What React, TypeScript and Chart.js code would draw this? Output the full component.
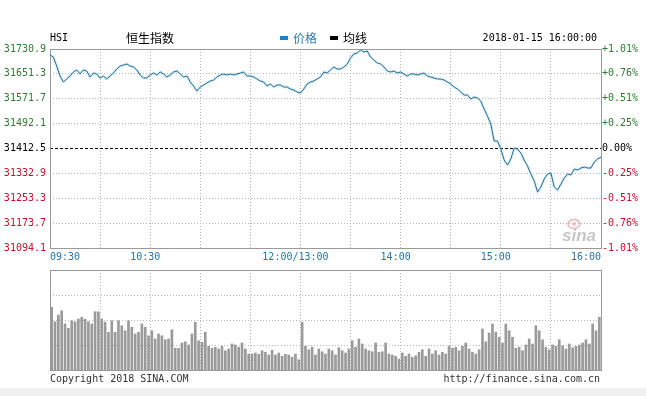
import React, { useEffect, useRef } from 'react';
import { Chart, registerables } from 'chart.js';

Chart.register(...registerables);

// ---------- data ----------
const symbol = 'HSI';
const indexName = '恒生指数';
const timestamp = '2018-01-15 16:00:00';
const baseValue = 31412.5;
const yTicks = [31094.1, 31173.7, 31253.3, 31332.9, 31412.5, 31492.1, 31571.7, 31651.3, 31730.9];
const pctLabels = ['-1.01%', '-0.76%', '-0.51%', '-0.25%', '0.00%', '+0.25%', '+0.51%', '+0.76%', '+1.01%'];
const xLabelTimes = [0, 60, 150, 210, 270, 330];
const xLabels = ['09:30', '10:30', '12:00/13:00', '14:00', '15:00', '16:00'];
const gridTimes = [30, 60, 90, 120, 150, 180, 210, 240, 270, 300];
const volGridLevels = [1, 2, 3];
const minutesStep = 2;
const legendNames = ['价格', '均线'];
const copyright = 'Copyright 2018 SINA.COM';
const siteUrl = 'http://finance.sina.com.cn';

// price every 2 minutes (trading minutes since 09:30)
const prices = [
  31711.7, 31705.3, 31676.5, 31644.5, 31625.3, 31634.9, 31644.5, 31657.3, 31663.7, 31650.9,
  31663.7, 31660.5, 31641.3, 31654.1, 31650.9, 31638.1, 31644.5, 31634.9, 31644.5, 31654.1,
  31666.9, 31676.5, 31679.7, 31682.9, 31676.5, 31673.3, 31663.7, 31647.7, 31638.1, 31638.1,
  31647.7, 31654.1, 31647.7, 31657.3, 31650.9, 31641.3, 31647.7, 31657.3, 31660.5, 31650.9,
  31641.3, 31644.5, 31625.3, 31612.5, 31596.5, 31609.3, 31615.7, 31622.1, 31628.5, 31631.7,
  31641.3, 31647.7, 31650.9, 31647.7, 31650.9, 31647.7, 31650.9, 31654.1, 31657.3, 31644.5,
  31644.5, 31641.3, 31634.9, 31628.5, 31625.3, 31612.5, 31618.9, 31609.3, 31615.7, 31615.7,
  31609.3, 31609.3, 31602.9, 31599.7, 31593.3, 31590.1, 31602.9, 31618.9, 31625.3, 31628.5,
  31634.9, 31641.3, 31657.3, 31654.1, 31663.7, 31673.3, 31666.9, 31666.9, 31673.3, 31682.9,
  31702.1, 31714.9, 31718.1, 31727.7, 31721.3, 31724.5, 31705.3, 31695.7, 31686.1, 31682.9,
  31673.3, 31660.5, 31657.3, 31660.5, 31654.1, 31657.3, 31650.9, 31644.5, 31650.9, 31650.9,
  31647.7, 31650.9, 31654.1, 31644.5, 31641.3, 31638.1, 31634.9, 31634.9, 31631.7, 31625.3,
  31618.9, 31609.3, 31602.9, 31593.3, 31583.7, 31583.7, 31570.9, 31577.3, 31574.1, 31564.5,
  31538.9, 31516.5, 31490.9, 31436.5, 31436.5, 31410.9, 31375.7, 31359.7, 31378.9, 31414.1,
  31410.9, 31398.1, 31375.7, 31356.5, 31330.9, 31308.5, 31273.3, 31289.3, 31314.9, 31330.9,
  31334.1, 31289.3, 31279.7, 31298.9, 31318.1, 31330.9, 31327.7, 31346.9, 31343.7, 31350.1,
  31353.3, 31350.1, 31350.1, 31369.3, 31378.9, 31385.3,
];

// relative volume per 2-minute bucket
const volumes = [
  2.51, 1.93, 2.2, 2.37, 1.84, 1.67, 1.97, 1.93, 2.04, 2.11, 2.03, 1.93, 1.84, 2.33, 2.33,
  2.04, 1.91, 1.51, 1.97, 1.51, 1.97, 1.77, 1.57, 1.97, 1.71, 1.44, 1.51, 1.84, 1.71, 1.37,
  1.57, 1.24, 1.44, 1.37, 1.21, 1.24, 1.61, 0.87, 0.87, 1.08, 1.13, 1.0, 1.44, 1.91, 1.17,
  1.11, 1.51, 0.95, 0.87, 0.91, 0.84, 0.95, 0.77, 0.84, 1.04, 1.0, 0.91, 1.08, 0.84, 0.64,
  0.64, 0.68, 0.63, 0.77, 0.71, 0.6, 0.79, 0.6, 0.68, 0.55, 0.63, 0.6, 0.51, 0.64, 0.41,
  1.91, 0.95, 0.81, 0.91, 0.6, 0.84, 0.73, 0.64, 0.84, 0.77, 0.6, 0.89, 0.77, 0.68, 0.84,
  1.17, 0.91, 1.24, 1.04, 0.84, 0.77, 0.73, 1.08, 0.71, 0.73, 1.08, 0.64, 0.6, 0.55, 0.44,
  0.68, 0.55, 0.64, 0.51, 0.57, 0.71, 0.81, 0.55, 0.84, 0.64, 0.77, 0.6, 0.71, 0.64, 0.95,
  0.87, 0.91, 0.77, 0.95, 1.08, 0.84, 0.71, 0.64, 0.81, 1.64, 1.13, 1.48, 1.84, 1.51, 1.31,
  1.08, 1.84, 1.57, 1.31, 0.87, 0.91, 0.77, 1.0, 1.24, 1.04, 1.77, 1.57, 1.21, 0.91, 0.81,
  1.0, 0.95, 1.21, 0.97, 0.84, 1.04, 0.89, 0.95, 1.0, 1.08, 1.21, 1.04, 1.84, 1.57, 2.11,
];

// ---------- styles ----------
const MONO = '10px "DejaVu Sans Mono", monospace';
const CJK = '12px "Noto Sans CJK SC", sans-serif';
const LINE_COLOR = '#2a6b92';
const LEGEND_BLUE = '#1f7fc0';
const UP = '#2e7d32';
const DOWN = '#c8102e';
const BOX = '#9a9a9a';
const GRID = '#b8b8b8';
const XLABEL = '#2576ad';

const px = (v: number) => Math.floor(v) + 0.5;

function tickColor(v: number) {
  if (Math.abs(v - baseValue) < 0.01) return '#000';
  return v > baseValue ? UP : DOWN;
}

const mainDecor = {
  id: 'mainDecor',
  beforeDatasetsDraw(chart: any) {
    const { ctx, chartArea: a, scales } = chart;
    const xs = scales.x;
    const ys = scales.y;
    ctx.save();
    // watermark
    ctx.strokeStyle = 'rgba(225,110,110,0.5)';
    ctx.lineWidth = 1.5;
    ctx.beginPath();
    ctx.ellipse(574, 224, 6, 4.5, 0, 0, Math.PI * 2);
    ctx.stroke();
    ctx.fillStyle = 'rgba(225,110,110,0.4)';
    ctx.beginPath();
    ctx.arc(574, 224, 2, 0, Math.PI * 2);
    ctx.fill();
    ctx.font = 'italic bold 17px "Liberation Sans", sans-serif';
    ctx.fillStyle = 'rgba(175,175,175,0.7)';
    ctx.textBaseline = 'alphabetic';
    ctx.fillText('sina', 562, 241);
    // grid
    ctx.lineWidth = 1;
    ctx.strokeStyle = GRID;
    ctx.setLineDash([1, 2]);
    gridTimes.forEach((t) => {
      const x = px(xs.getPixelForValue(t));
      ctx.beginPath();
      ctx.moveTo(x, a.top);
      ctx.lineTo(x, a.bottom);
      ctx.stroke();
    });
    yTicks.slice(1, -1).forEach((v) => {
      if (Math.abs(v - baseValue) < 0.01) return;
      const y = px(ys.getPixelForValue(v));
      ctx.beginPath();
      ctx.moveTo(a.left, y);
      ctx.lineTo(a.right, y);
      ctx.stroke();
    });
    // base line
    ctx.strokeStyle = '#000';
    ctx.setLineDash([3, 2]);
    const yb = px(ys.getPixelForValue(baseValue));
    ctx.beginPath();
    ctx.moveTo(a.left, yb);
    ctx.lineTo(a.right, yb);
    ctx.stroke();
    // box
    ctx.setLineDash([]);
    ctx.strokeStyle = BOX;
    ctx.strokeRect(px(a.left), px(a.top), Math.round(a.right - a.left), Math.round(a.bottom - a.top));
    ctx.restore();
  },
  afterDraw(chart: any) {
    const { ctx, scales } = chart;
    const xs = scales.x;
    ctx.save();
    ctx.textBaseline = 'middle';
    ctx.fillStyle = '#000';
    ctx.font = MONO;
    ctx.textAlign = 'left';
    ctx.fillText(symbol, 50, 38);
    ctx.font = CJK;
    ctx.fillText(indexName, 126, 38);
    // legend
    let lx = 280;
    const legendColors = [LEGEND_BLUE, '#000'];
    legendNames.forEach((name, i) => {
      ctx.fillStyle = legendColors[i];
      ctx.fillRect(lx, 36, 8, 4);
      ctx.font = CJK;
      ctx.fillText(name, lx + 13, 38);
      lx += 13 + ctx.measureText(name).width + 13;
    });
    ctx.fillStyle = '#000';
    ctx.font = MONO;
    ctx.textAlign = 'right';
    ctx.fillText(timestamp, 597, 38);
    // x labels
    ctx.fillStyle = XLABEL;
    xLabelTimes.forEach((t, i) => {
      const x = xs.getPixelForValue(t);
      if (i === 0) {
        ctx.textAlign = 'left';
        ctx.fillText(xLabels[i], x, 257);
      } else if (i === xLabelTimes.length - 1) {
        ctx.textAlign = 'right';
        ctx.fillText(xLabels[i], x, 257);
      } else {
        ctx.textAlign = 'center';
        ctx.fillText(xLabels[i], x - 5, 257);
      }
    });
    ctx.restore();
  },
};

const volDecor = {
  id: 'volDecor',
  beforeDatasetsDraw(chart: any) {
    const { ctx, chartArea: a, scales } = chart;
    ctx.save();
    ctx.lineWidth = 1;
    ctx.strokeStyle = GRID;
    ctx.setLineDash([1, 2]);
    gridTimes.forEach((t) => {
      const x = px(scales.x.getPixelForValue(t));
      ctx.beginPath();
      ctx.moveTo(x, a.top);
      ctx.lineTo(x, a.bottom);
      ctx.stroke();
    });
    volGridLevels.forEach((v) => {
      const y = px(scales.y.getPixelForValue(v));
      ctx.beginPath();
      ctx.moveTo(a.left, y);
      ctx.lineTo(a.right, y);
      ctx.stroke();
    });
    ctx.restore();
  },
  afterDraw(chart: any) {
    const { ctx, chartArea: a } = chart;
    ctx.save();
    ctx.setLineDash([]);
    ctx.strokeStyle = BOX;
    ctx.lineWidth = 1;
    ctx.strokeRect(px(a.left), px(a.top), Math.round(a.right - a.left), Math.round(a.bottom - a.top));
    ctx.font = MONO;
    ctx.fillStyle = '#333';
    ctx.textBaseline = 'middle';
    ctx.textAlign = 'left';
    ctx.fillText(copyright, 50, 111);
    ctx.textAlign = 'right';
    ctx.fillText(siteUrl, 600, 111);
    ctx.restore();
  },
};

export default function App() {
  const mainRef = useRef<HTMLCanvasElement | null>(null);
  const volRef = useRef<HTMLCanvasElement | null>(null);

  useEffect(() => {
    const priceData = prices.map((p, i) => ({ x: i * minutesStep, y: p }));
    const volData = volumes.map((v, i) => ({ x: i * minutesStep + 1, y: v }));
    const yMin = yTicks[0];
    const yMax = yTicks[yTicks.length - 1];

    const main = new Chart(mainRef.current as HTMLCanvasElement, {
      type: 'line',
      data: {
        datasets: [
          { label: legendNames[0], data: priceData, borderColor: LINE_COLOR, borderWidth: 1, pointRadius: 0, tension: 0, order: 1 },
          { label: 'glow', data: priceData, borderColor: 'rgba(150,210,240,0.35)', borderWidth: 3, pointRadius: 0, tension: 0, order: 2 },
          { label: legendNames[1], data: [], borderColor: '#000', pointRadius: 0, order: 3 },
        ],
      },
      options: {
        responsive: false,
        animation: false,
        devicePixelRatio: 1,
        layout: { padding: { top: 49, left: 0, right: 0, bottom: 0 } },
        plugins: { legend: { display: false }, tooltip: { enabled: false } },
        scales: {
          x: {
            type: 'linear', min: 0, max: 330,
            ticks: { display: false },
            grid: { display: false },
            border: { display: false },
            afterFit: (s: any) => { s.height = 20; },
          },
          y: {
            type: 'linear', position: 'left', min: yMin, max: yMax,
            afterBuildTicks: (s: any) => { s.ticks = yTicks.map((v) => ({ value: v })); },
            ticks: {
              autoSkip: false,
              padding: 4,
              font: { family: '"DejaVu Sans Mono", monospace', size: 10 },
              color: (c: any) => tickColor(c.tick.value),
              callback: (v: any) => Number(v).toFixed(1),
            },
            grid: { display: false, drawTicks: false },
            border: { display: false },
            afterFit: (s: any) => { s.width = 50; },
          },
          y2: {
            type: 'linear', position: 'right', min: yMin, max: yMax,
            afterBuildTicks: (s: any) => { s.ticks = yTicks.map((v) => ({ value: v })); },
            ticks: {
              autoSkip: false,
              padding: 1,
              font: { family: '"DejaVu Sans Mono", monospace', size: 10 },
              color: (c: any) => tickColor(c.tick.value),
              callback: (_v: any, i: number) => pctLabels[i],
            },
            grid: { display: false, drawTicks: false },
            border: { display: false },
            afterFit: (s: any) => { s.width = 45; },
          },
        },
      } as any,
      plugins: [mainDecor],
    });

    const vol = new Chart(volRef.current as HTMLCanvasElement, {
      type: 'bar',
      data: {
        datasets: [
          { label: '成交量', data: volData as any, backgroundColor: '#9a9a9a', borderWidth: 0, barThickness: 2, grouped: false } as any,
        ],
      },
      options: {
        responsive: false,
        animation: false,
        devicePixelRatio: 1,
        layout: { padding: { top: 2, left: 50, right: 45, bottom: 26 } },
        plugins: { legend: { display: false }, tooltip: { enabled: false } },
        scales: {
          x: { type: 'linear', min: 0, max: 330, offset: false, display: false },
          y: { type: 'linear', min: 0, max: 4, display: false },
        },
      } as any,
      plugins: [volDecor],
    });

    return () => {
      main.destroy();
      vol.destroy();
    };
  }, []);

  return (
    <div style={{ position: 'absolute', left: 0, top: 0, width: 646, height: 396, background: '#fff' }}>
      <canvas ref={mainRef} width={646} height={268} style={{ position: 'absolute', left: 0, top: 0, width: 646, height: 268 }} />
      <canvas ref={volRef} width={646} height={128} style={{ position: 'absolute', left: 0, top: 268, width: 646, height: 128 }} />
      <div style={{ position: 'absolute', left: 0, top: 388, width: 646, height: 8, background: '#f0f0f0' }} />
    </div>
  );
}
